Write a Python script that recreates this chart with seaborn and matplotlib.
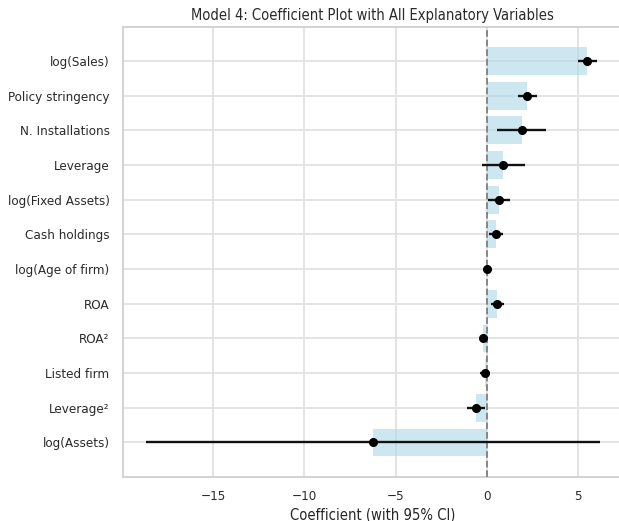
import numpy as np
import pandas as pd
import matplotlib
matplotlib.use("Agg")
import matplotlib.pyplot as plt
import seaborn as sns

# Regression output for Model 4 (point estimates and 95% confidence bounds)
variables = [
    "log(Sales)", "Policy stringency", "N. Installations", "Leverage",
    "log(Fixed Assets)", "Cash holdings", "log(Age of firm)", "ROA",
    "ROA²", "Listed firm", "Leverage²", "log(Assets)",
]
coef = [5.49, 2.21, 1.90, 0.90, 0.66, 0.47, -0.02, 0.57, -0.22, -0.13, -0.60, -6.24]
ci_low = [4.98, 1.70, 0.55, -0.27, 0.06, 0.10, -0.15, 0.24, -0.32, -0.40, -1.09, -18.68]
ci_high = [6.02, 2.72, 3.25, 2.07, 1.28, 0.85, 0.12, 0.93, -0.12, 0.15, -0.09, 6.20]

df = pd.DataFrame({"variable": variables, "coef": coef,
                   "lo": ci_low, "hi": ci_high})

sns.set_theme(style="whitegrid", rc={
    "grid.color": "#e2e2e2", "grid.linewidth": 1.3,
    "axes.edgecolor": "#d0d0d0", "axes.linewidth": 1.3,
    "xtick.labelsize": 9.6, "ytick.labelsize": 9.6,
    "axes.labelsize": 10.6, "axes.titlesize": 10.5,
    "text.color": "#2a2a2a", "xtick.color": "#2a2a2a", "ytick.color": "#2a2a2a",
})
plt.rcParams["font.family"] = ["DejaVu Sans"]
plt.rcParams["font.stretch"] = "condensed"

fig = plt.figure(figsize=(6.19, 5.21), dpi=100)
ax = fig.add_axes([122.7 / 619, 44.3 / 521, (623 - 122.7) / 619, (476.7 - 26.7) / 521])

sns.barplot(data=df, x="coef", y="variable", orient="h", color="lightblue",
            alpha=0.6, saturation=1, width=0.8, linewidth=0, ax=ax)

pos = np.arange(len(df))
ax.errorbar(df["coef"], pos,
            xerr=[df["coef"] - df["lo"], df["hi"] - df["coef"]],
            fmt="o", color="black", ecolor="#111111", elinewidth=1.7,
            markersize=5.5, capsize=0, zorder=4)

ax.axvline(0, color="grey", linestyle="--", linewidth=1.3, zorder=3)

ax.grid(True, axis="both")
ax.set_axisbelow(True)
ax.set_xlim(-19.96, 7.45)
ax.set_ylim(len(df) - 1 + 0.99, -0.99)
ax.set_xlabel("Coefficient (with 95% CI)", labelpad=3)
ax.set_ylabel("")
ax.set_title("Model 4: Coefficient Plot with All Explanatory Variables", pad=5)

fig.savefig("out.png", dpi=100)
